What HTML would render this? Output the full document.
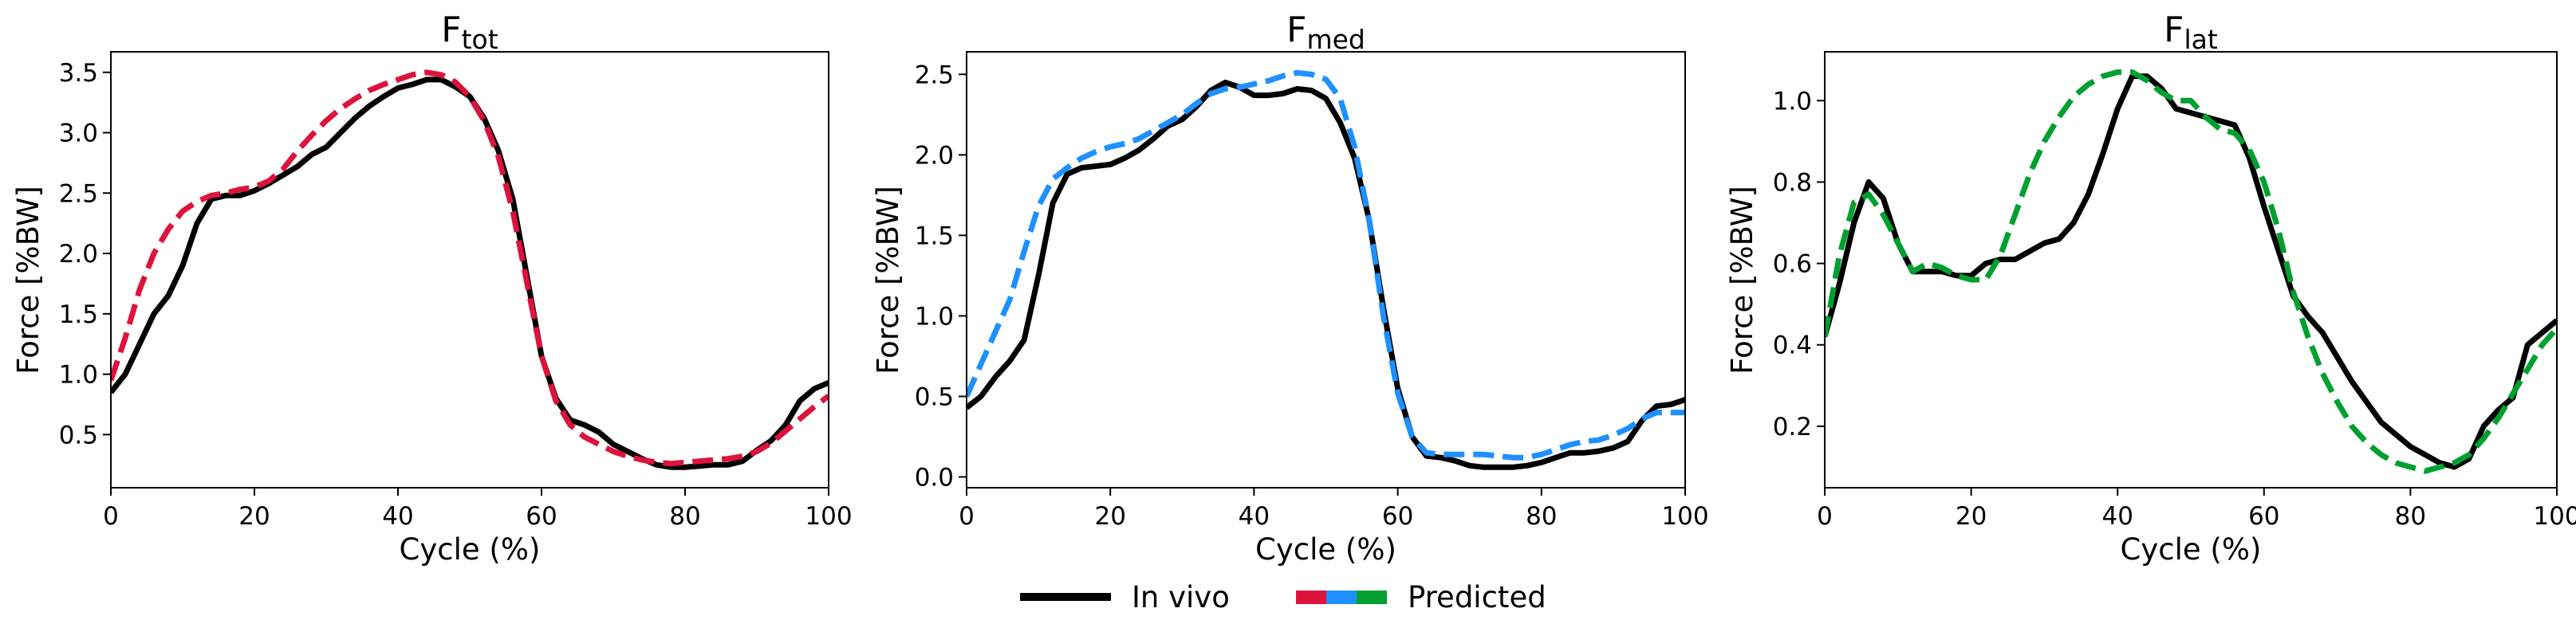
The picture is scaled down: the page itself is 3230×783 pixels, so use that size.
<!DOCTYPE html>
<html><head><meta charset="utf-8"><style>
html,body{margin:0;padding:0;background:#fff;}
svg{display:block;font-family:"DejaVu Sans","Liberation Sans",sans-serif;}
</style></head><body>
<svg id="fig" width="3230" height="783" viewBox="0 0 3230 783" xmlns="http://www.w3.org/2000/svg"></svg>
<script>
const cycleX = [0,2,4,6,8,10,12,14,16,18,20,22,24,26,28,30,32,34,36,38,40,42,44,46,48,50,52,54,56,58,60,62,64,66,68,70,72,74,76,78,80,82,84,86,88,90,92,94,96,98,100];
const totVivo = [0.85,1.0,1.25,1.5,1.65,1.9,2.25,2.45,2.48,2.48,2.52,2.58,2.65,2.72,2.82,2.88,3.0,3.12,3.22,3.3,3.37,3.4,3.44,3.44,3.38,3.3,3.12,2.85,2.45,1.8,1.15,0.8,0.62,0.58,0.52,0.42,0.36,0.3,0.25,0.23,0.23,0.24,0.25,0.25,0.28,0.37,0.45,0.58,0.78,0.88,0.93];
const totPred = [0.95,1.3,1.7,2.0,2.2,2.35,2.43,2.48,2.5,2.53,2.55,2.6,2.7,2.85,2.98,3.1,3.2,3.28,3.35,3.4,3.44,3.48,3.5,3.48,3.42,3.3,3.1,2.8,2.35,1.75,1.15,0.78,0.58,0.48,0.42,0.36,0.32,0.29,0.27,0.26,0.27,0.28,0.29,0.3,0.32,0.36,0.43,0.53,0.63,0.73,0.82];
const medVivo = [0.43,0.5,0.62,0.72,0.85,1.25,1.7,1.88,1.92,1.93,1.94,1.98,2.03,2.1,2.18,2.22,2.3,2.4,2.45,2.42,2.37,2.37,2.38,2.41,2.4,2.35,2.2,1.98,1.6,1.05,0.55,0.25,0.13,0.12,0.1,0.07,0.06,0.06,0.06,0.07,0.09,0.12,0.15,0.15,0.16,0.18,0.22,0.35,0.44,0.45,0.48];
const medPred = [0.5,0.7,0.9,1.1,1.4,1.68,1.85,1.92,1.98,2.02,2.05,2.07,2.1,2.15,2.2,2.25,2.32,2.38,2.41,2.42,2.44,2.46,2.49,2.51,2.5,2.47,2.35,2.05,1.6,1.0,0.52,0.25,0.15,0.14,0.14,0.14,0.14,0.13,0.12,0.12,0.14,0.17,0.2,0.22,0.23,0.26,0.3,0.36,0.4,0.4,0.4];
const latVivo = [0.42,0.55,0.7,0.8,0.76,0.65,0.58,0.58,0.58,0.57,0.57,0.6,0.61,0.61,0.63,0.65,0.66,0.7,0.77,0.87,0.98,1.06,1.06,1.03,0.98,0.97,0.96,0.95,0.94,0.86,0.74,0.63,0.52,0.47,0.43,0.37,0.31,0.26,0.21,0.18,0.15,0.13,0.11,0.1,0.12,0.2,0.24,0.27,0.4,0.43,0.46];
const latPred = [0.42,0.62,0.75,0.77,0.72,0.65,0.58,0.6,0.59,0.57,0.56,0.56,0.62,0.72,0.82,0.9,0.96,1.01,1.04,1.06,1.07,1.07,1.05,1.02,1.0,1.0,0.96,0.93,0.92,0.88,0.8,0.68,0.53,0.42,0.33,0.26,0.2,0.16,0.13,0.11,0.1,0.09,0.1,0.11,0.13,0.17,0.22,0.28,0.34,0.4,0.44];
const xTicks = [0,20,40,60,80,100];
const totTicks = [0.5,1.0,1.5,2.0,2.5,3.0,3.5];
const medTicks = [0.0,0.5,1.0,1.5,2.0,2.5];
const latTicks = [0.2,0.4,0.6,0.8,1.0];

const NS="http://www.w3.org/2000/svg";
const svg=document.getElementById('fig');
function mk(tag,attrs,parent){const e=document.createElementNS(NS,tag);for(const k in attrs)e.setAttribute(k,attrs[k]);(parent||svg).appendChild(e);return e;}

const panels=[
 {name:'tot',sub:'tot',L:139,R:1039,ymin:0.06,ymax:3.67,ticks:totTicks,vivo:totVivo,pred:totPred,color:'#dc143c',ylab:35},
 {name:'med',sub:'med',L:1212,R:2113,ymin:-0.067,ymax:2.64,ticks:medTicks,vivo:medVivo,pred:medPred,color:'#1e90ff',ylab:1113},
 {name:'lat',sub:'lat',L:2288,R:3206,ymin:0.049,ymax:1.12,ticks:latTicks,vivo:latVivo,pred:latPred,color:'#00a030',ylab:2184}
];
const T=65,B=612;
panels.forEach(p=>{
  const g=mk('g',{});
  
  
  const sx=v=>p.L+(v-0)/(100-0)*(p.R-p.L);
  const sy=v=>B-(v-p.ymin)/(p.ymax-p.ymin)*(B-T);
  xTicks.forEach(t=>{
    const l=mk('line',{x1:sx(t),x2:sx(t),y1:B,y2:B+10,stroke:'#000','stroke-width':2},g);
    
    
    const tx=mk('text',{x:sx(t),y:B+46,'font-size':31,'text-anchor':'middle'},g);
    tx.textContent=t;
    
    
  });
  p.ticks.forEach(t=>{
    const l=mk('line',{x1:p.L-10,x2:p.L,y1:sy(t),y2:sy(t),stroke:'#000','stroke-width':2},g);
    
    
    const tx=mk('text',{x:p.L-16,y:sy(t)+11,'font-size':31,'text-anchor':'end'},g);
    tx.textContent=t.toFixed(1);
    
    
  });
  const clip=mk('clipPath',{id:'c'+p.name},g);
  mk('rect',{x:p.L,y:T,width:p.R-p.L,height:B-T},clip);
  const path=arr=>arr.map((v,i)=>(i?'L':'M')+sx(cycleX[i]).toFixed(1)+','+sy(v).toFixed(1)).join('');
  const vl=mk('path',{d:path(p.vivo),fill:'none',stroke:'#000','stroke-width':7,'stroke-linejoin':'round','clip-path':'url(#c'+p.name+')'},g);
  
  
  const pl=mk('path',{d:path(p.pred),fill:'none',stroke:p.color,'stroke-width':7,'stroke-linejoin':'round','stroke-dasharray':'26,11','clip-path':'url(#c'+p.name+')'},g);
  
  
  const fr=mk('rect',{x:p.L,y:T,width:p.R-p.L,height:B-T,fill:'none',stroke:'#000','stroke-width':2},g);
  
  
  const cx=(p.L+p.R)/2;
  const xl=mk('text',{x:cx,y:702,'font-size':37,'text-anchor':'middle'},g);
  xl.textContent='Cycle (%)';
  
  
  const yl=mk('text',{x:p.ylab,y:(T+B)/2,'font-size':37,'text-anchor':'middle',transform:'rotate(-90 '+(p.ylab+13)+' '+((T+B)/2)+')'},g);
  yl.textContent='Force [%BW]';
  
  
  const tt=mk('text',{x:cx,y:52,'font-size':44,'text-anchor':'middle'},g);
  tt.textContent='F';
  const ts=mk('tspan',{'font-size':33,dy:9},tt);
  ts.textContent=p.sub;
  
  
});
</script>
<script>
(function(){
const NS="http://www.w3.org/2000/svg";
const svg=document.getElementById('fig');
const g=document.createElementNS(NS,'g');


svg.appendChild(g);
function add(tag,a){const e=document.createElementNS(NS,tag);for(const k in a)e.setAttribute(k,a[k]);g.appendChild(e);return e;}
add('line',{x1:1279,x2:1393,y1:749,y2:749,stroke:'#000','stroke-width':10});
const t1=add('text',{x:1419,y:762,'font-size':37});t1.textContent='In vivo';
add('rect',{x:1625,y:741,width:38,height:17,fill:'#dc143c'});
add('rect',{x:1663,y:741,width:38,height:17,fill:'#1e90ff'});
add('rect',{x:1701,y:741,width:38,height:17,fill:'#00a030'});
const t2=add('text',{x:1765,y:762,'font-size':37});t2.textContent='Predicted';
})();
</script>
</body></html>
